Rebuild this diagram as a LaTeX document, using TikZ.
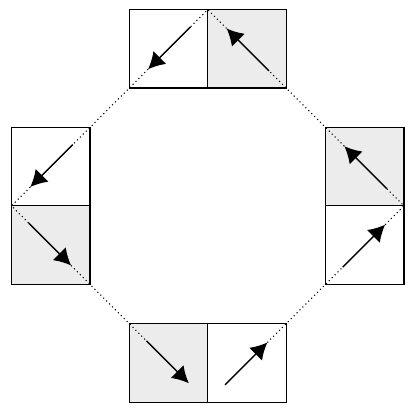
\documentclass[tikz,border=0pt]{standalone}
\usepackage{tikz}
\usetikzlibrary{arrows.meta}
\usetikzlibrary{calc}
\tikzstyle{case}=[rectangle,draw,minimum size=1cm,inner sep=0pt,outer sep=0pt,line width=0.45pt]
\tikzstyle{caseg}=[case,fill=gray!15]
\tikzstyle{fleche}=[-{Latex[length=6pt,width=6.6pt]},line width=0.5pt]
\tikzstyle{pointille}=[line width=0.4pt,dash pattern=on 0.4pt off 1.1pt]

\begin{document}
\begin{tikzpicture}
\useasboundingbox (-2.646,-2.678) rectangle (2.704,2.622);
\node[case] (t1) at (-0.5,2) {};
\node[caseg] (t2) at (0.5,2) {};
\node[case] (l1) at (-2,0.5) {};
\node[caseg] (l2) at (-2,-0.5) {};
\node[caseg] (b1) at (-0.5,-2) {};
\node[case] (b2) at (0.5,-2) {};
\node[caseg] (r1) at (2,0.5) {};
\node[case] (r2) at (2,-0.5) {};
%Extremitesdesfleches
\coordinate (t1a) at ($(t1.north east)!0.22!(t1.south west)$);
\coordinate (t1b) at ($(t1.north east)!0.76!(t1.south west)$);
\coordinate (t2a) at ($(t2.south east)!0.22!(t2.north west)$);
\coordinate (t2b) at ($(t2.south east)!0.76!(t2.north west)$);
\coordinate (l1a) at ($(l1.north east)!0.22!(l1.south west)$);
\coordinate (l1b) at ($(l1.north east)!0.76!(l1.south west)$);
\coordinate (l2a) at ($(l2.north west)!0.22!(l2.south east)$);
\coordinate (l2b) at ($(l2.north west)!0.76!(l2.south east)$);
\coordinate (b1a) at ($(b1.north west)!0.22!(b1.south east)$);
\coordinate (b1b) at ($(b1.north west)!0.76!(b1.south east)$);
\coordinate (b2a) at ($(b2.south west)!0.22!(b2.north east)$);
\coordinate (b2b) at ($(b2.south west)!0.76!(b2.north east)$);
\coordinate (r2a) at ($(r2.south west)!0.22!(r2.north east)$);
\coordinate (r2b) at ($(r2.south west)!0.76!(r2.north east)$);
\coordinate (r1a) at ($(r1.south east)!0.22!(r1.north west)$);
\coordinate (r1b) at ($(r1.south east)!0.76!(r1.north west)$);
%Pointilles
\draw[pointille] (b2b) -- (r2a);
\draw[pointille] (r2b) -- (r2.north east) -- (r1a);
\draw[pointille] (r1b) -- (t2a);
\draw[pointille] (t2b) -- (t2.north west) -- (t1a);
\draw[pointille] (t1b) -- (l1a);
\draw[pointille] (l1b) -- (l1.south west) -- (l2a);
\draw[pointille] (l2b) -- (b1a);
%Fleches
\draw[fleche] (t1a) -- (t1b);
\draw[fleche] (t2a) -- (t2b);
\draw[fleche] (l1a) -- (l1b);
\draw[fleche] (l2a) -- (l2b);
\draw[fleche] (b1a) -- (b1b);
\draw[fleche] (b2a) -- (b2b);
\draw[fleche] (r2a) -- (r2b);
\draw[fleche] (r1a) -- (r1b);
\end{tikzpicture}
\end{document}
